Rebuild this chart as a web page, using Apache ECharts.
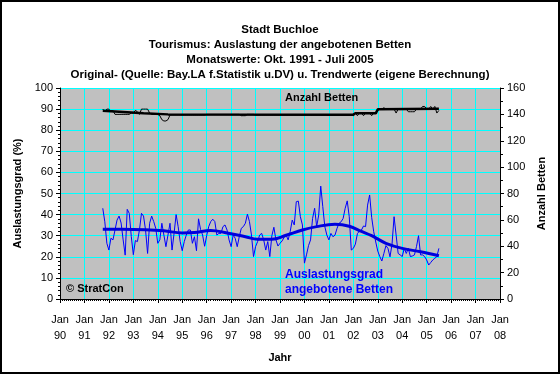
<!DOCTYPE html>
<html><head><meta charset="utf-8">
<script src="https://cdn.jsdelivr.net/npm/echarts@6/dist/echarts.min.js"></script>
<style>html,body{margin:0;padding:0;background:#fff}#c{width:560px;height:374px}</style>
</head><body><div id="c"></div>
<script>
// ---- data ----
const titleLines = [
  'Stadt Buchloe',
  'Tourismus: Auslastung der angebotenen Betten',
  'Monatswerte: Okt. 1991 - Juli 2005',
  'Original- (Quelle: Bay.LA f.Statistik u.DV) u. Trendwerte (eigene Berechnung)'
];
const startYear = 1991, startMonth = 10; // first monthly value: Okt. 1991
const xYears = [90,91,92,93,94,95,96,97,98,99,'00','01','02','03','04','05','06','07','08'];
// Auslastungsgrad (%) monthly, Oct 1991 .. Jul 2005
const auslastung = [
  43, 36.6, 26.4,
  23.2, 28.8, 28, 32.7, 37.4, 39.3, 36, 28, 20.8, 42.5, 40.6, 29.6,
  21, 27.7, 27.2, 32.7, 40.6, 39.3, 32.7, 21.6, 35.9, 39.3, 36.7, 33.5,
  26.4, 28, 35.9, 30.3, 24.8, 30.3, 35.9, 23.2, 31.1, 40, 34.3, 27.2,
  22.9, 27.2, 30.3, 32.7, 32.7, 26.4, 29.5, 22.9, 38, 33, 30.3, 25,
  30, 34.3, 36.7, 37.8, 36.7, 30.3, 31.1, 31.1, 34.3, 35.1, 32.7, 28,
  24.8, 30.3, 28.8, 24.8, 29.5, 33.5, 34.3, 35.9, 40.2, 36.7, 30.3, 20.1,
  24.8, 27.2, 30.3, 31.1, 28, 23.2, 27.2, 20.1, 30, 34, 28, 25.1,
  26.4, 27.5, 29.1, 30.3, 28, 31.9, 37.4, 35.1, 46.1, 46.4, 39, 35.1,
  17, 20.9, 25.3, 28, 38.2, 43, 34.3, 39.8, 53.5, 43.8, 34.3, 30.3,
  28, 31.1, 29.5, 30.3, 33.5, 35.9, 36.6, 38.2, 43, 46.5, 39, 23.2,
  24, 26, 31, 32.2, 32.7, 34.6, 34.3, 44.5, 49.3, 38.7, 31.9, 27,
  22.7, 20.1, 18, 21.6, 25.3, 24, 20, 26, 39, 30.3, 21.6, 20.9,
  20.1, 24, 21.6, 24, 20.1, 20.4, 20.9, 24.8, 30, 20.9, 20.9, 20.1,
  18.5, 16.1, 17.3, 18.5, 19.3, 20.1, 24
];
// Anzahl Betten monthly, Oct 1991 .. Jul 2005
const betten = [
  144, 142, 144,
  144, 142, 143, 140, 140, 140, 140, 140, 140, 140, 140, 141,
  141, 143, 142, 140, 144, 144, 144, 144, 141, 140, 140, 140,
  140, 139, 136, 135, 135, 136, 139.5, 139.5, 139.5, 139.5, 139.5, 139.5,
  139.5, 139.5, 139.5, 139.5, 139.5, 139.5, 139.5, 139.5, 139.5, 139.5, 139.5, 139.5,
  140, 140, 140, 140, 140, 140, 140, 140, 140, 140, 140, 140,
  140, 140, 140, 140, 140, 139, 139, 139, 140, 140, 140, 140,
  139.5, 139.5, 139.5, 139.5, 139.5, 139.5, 139.5, 139.5, 139.5, 139.5, 139.5, 139.5,
  139.5, 139.5, 139.5, 139.5, 139.5, 139.5, 139.5, 139.5, 139.5, 139.5, 139.5, 139.5,
  139.5, 139.5, 139.5, 139.5, 139.5, 139.5, 139.5, 139.5, 139.5, 139.5, 139.5, 139.5,
  139.5, 139.5, 139.5, 139.5, 139.5, 139.5, 139.5, 139.5, 139.5, 139.5, 139.5, 139.5,
  139, 141, 139, 141, 141, 139, 141, 141, 141, 139, 141, 141,
  143, 144, 144, 145, 144, 144, 144, 144, 144, 141, 144, 144,
  144, 144, 144, 142, 142, 142, 142, 144, 144, 144, 146, 146,
  144, 144, 146, 144, 146, 141, 143
];
const auslastungTrend = [
  ['1991-10',33],['1992-07',33],['1993-07',32.8],['1994-04',32.3],['1995-01',31.3],
  ['1995-07',31.5],['1996-03',32.5],['1996-11',31.3],['1997-08',29.5],['1998-02',28.3],
  ['1998-09',28.3],['1999-04',30.2],['1999-12',32.7],['2000-07',34.3],['2001-04',35.4],
  ['2001-11',34.5],['2002-05',32],['2002-10',30],['2003-05',26.4],['2004-01',24],
  ['2004-10',22.4],['2005-07',20.5]
];
const bettenTrend = [
  ['1991-10',142.8],['1992-06',142],['1993-06',140.8],['1994-06',140],['2002-01',139.8],
  ['2002-02',140.8],['2002-12',140.8],['2003-01',143.8],['2005-07',144.2]
];

// ---- build ----
const ym = s => { const p = s.split('-').map(Number); return p[0] + (p[1]-1)/12; };
const monthly = arr => arr.map((v,i) => [startYear + (startMonth-1+i)/12, v]);
const trend = arr => arr.map(d => [ym(d[0]), d[1]]);
const F = 'Liberation Sans, Arial, sans-serif';

const chart = echarts.init(document.getElementById('c'), null, {renderer:'canvas'});
chart.setOption({
  animation:false,
  backgroundColor:'#fff',
  textStyle:{fontFamily:F},
  title:{text:titleLines.join('\n'), left:'center', top:17,
    textStyle:{fontFamily:F, fontSize:11.5, fontWeight:'bold', color:'#000', lineHeight:15}},
  grid:{left:60, right:60, top:88, bottom:75, show:true, backgroundColor:'#c0c0c0', borderWidth:0},
  xAxis:{type:'value', min:1990, max:2008, interval:1,
    name:'Jahr', nameLocation:'middle', nameGap:53,
    nameTextStyle:{fontFamily:F, fontSize:11, fontWeight:'bold', color:'#000'},
    axisLine:{show:true, lineStyle:{color:'#000'}},
    axisTick:{show:true, length:4, lineStyle:{color:'#000'}},
    minorTick:{show:true, splitNumber:12, length:2, lineStyle:{color:'#000'}},
    splitLine:{show:true, lineStyle:{color:'#00ffff', width:1}},
    axisLabel:{color:'#000', fontFamily:F, fontSize:11, lineHeight:16, margin:13,
      formatter:v => 'Jan\n' + xYears[Math.round(v)-1990]}},
  yAxis:[
    {type:'value', min:0, max:100, interval:10, position:'left',
     name:'Auslastungsgrad (%)', nameLocation:'middle', nameGap:33,
     nameTextStyle:{fontFamily:F, fontSize:11, fontWeight:'bold', color:'#000'},
     axisLine:{show:true, lineStyle:{color:'#000'}},
     axisTick:{show:true, length:4, lineStyle:{color:'#000'}},
     minorTick:{show:true, splitNumber:5, length:2, lineStyle:{color:'#000'}},
     splitLine:{show:true, lineStyle:{color:'#00ffff', width:1}},
     axisLabel:{color:'#000', fontFamily:F, fontSize:11, margin:7}},
    {type:'value', min:0, max:160, interval:20, position:'right',
     name:'Anzahl Betten', nameLocation:'middle', nameGap:35,
     nameTextStyle:{fontFamily:F, fontSize:11, fontWeight:'bold', color:'#000'},
     axisLine:{show:true, lineStyle:{color:'#000'}},
     axisTick:{show:true, length:4, lineStyle:{color:'#000'}},
     minorTick:{show:true, splitNumber:2, length:3, lineStyle:{color:'#000'}},
     splitLine:{show:false},
     axisLabel:{color:'#000', fontFamily:F, fontSize:11, margin:7}}
  ],
  series:[
    {type:'line', yAxisIndex:1, data:monthly(betten), showSymbol:false,
     lineStyle:{color:'#000', width:1}},
    {type:'line', yAxisIndex:1, data:trend(bettenTrend), showSymbol:false,
     lineStyle:{color:'#000', width:2.5}},
    {type:'line', yAxisIndex:0, data:monthly(auslastung), showSymbol:false,
     lineStyle:{color:'#0000ff', width:1}},
    {type:'line', yAxisIndex:0, data:trend(auslastungTrend), showSymbol:false, smooth:0.4,
     lineStyle:{color:'#0000dd', width:3}}
  ],
  graphic:[
    {type:'rect', shape:{x:1, y:1, width:558, height:372}, style:{fill:'none', stroke:'#000', lineWidth:2}, silent:true, z:100},
    {type:'text', x:285, y:98, style:{text:'Anzahl Betten', font:'bold 11px '+F, fill:'#000', textVerticalAlign:'middle'}, z:50},
    {type:'text', x:285, y:267, style:{text:'Auslastungsgrad\nangebotene Betten', font:'bold 12px '+F, fill:'#0000ff', lineHeight:15}, z:50},
    {type:'text', x:66, y:289, style:{text:'\u00a9 StratCon', font:'bold 11px '+F, fill:'#000', textVerticalAlign:'middle'}, z:50}
  ]
});
</script></body></html>
